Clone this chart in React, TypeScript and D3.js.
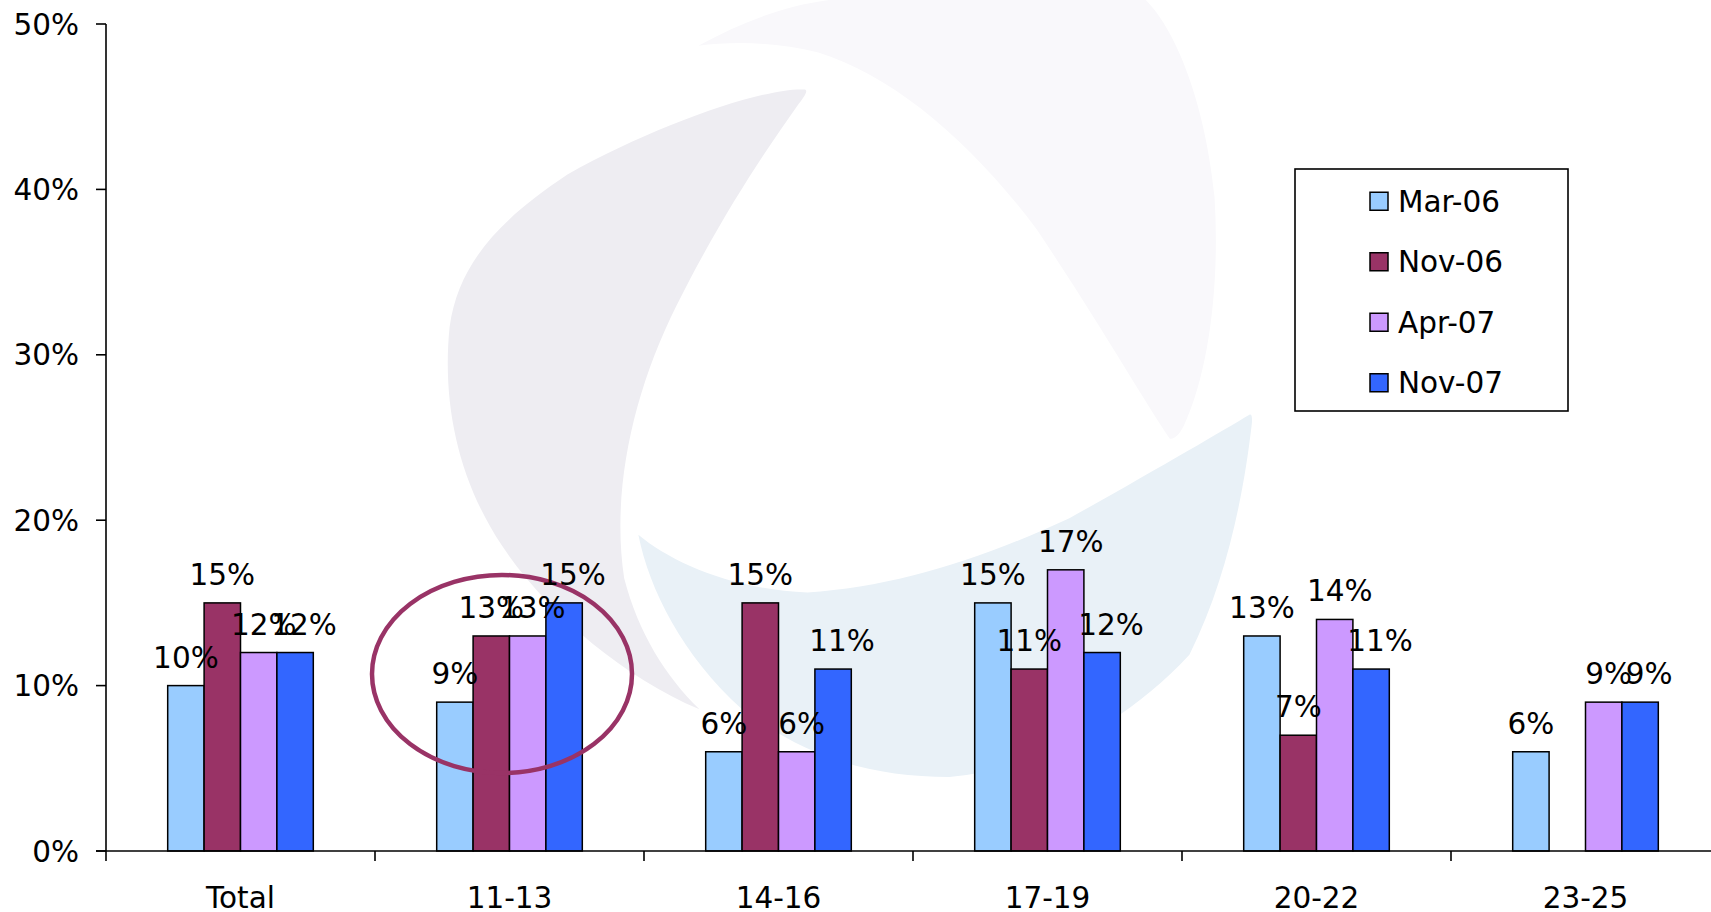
import * as d3 from 'd3'

// categories on the x axis
const categories = ['Total', '11-13', '14-16', '17-19', '20-22', '23-25']
const seriesNames = ['Mar-06', 'Nov-06', 'Apr-07', 'Nov-07']
const seriesColors = ['#99CCFF', '#993366', '#CC99FF', '#3366FF']

// values in percent, one array per survey
const mar06 = [10, 9, 6, 15, 13, 6]
const nov06 = [15, 13, 15, 11, 7, null]
const apr07 = [12, 13, 6, 17, 14, 9]
const nov07 = [12, 15, 11, 12, 11, 9]
const yTicks = [0, 10, 20, 30, 40, 50]

const series = [mar06, nov06, apr07, nov07]

const width = 1711
const height = 912
const font = '"DejaVu Sans", sans-serif'
const fs = 29.5
// labels of the later series sit a little to the right of their bars
const labelShift = [0, 0, 5, 9]

export default function App() {
  const x0 = d3
    .scaleBand()
    .domain(categories)
    .range([106, 106 + 269 * categories.length])
  const x1 = d3
    .scaleBand()
    .domain(seriesNames)
    .range([0, x0.bandwidth()])
    .paddingInner(0)
    .paddingOuter(1.695)
  const y = d3.scaleLinear().domain([0, 50]).range([851, 24])
  const color = d3.scaleOrdinal<string, string>().domain(seriesNames).range(seriesColors)
  const legendY = d3.scaleBand().domain(seriesNames).range([169, 411])

  const bars = series
    .flatMap((vals, si) =>
      vals.map((v, ci) => ({ si, name: seriesNames[si], cat: categories[ci], v }))
    )
    .filter(d => d.v != null) as { si: number; name: string; cat: string; v: number }[]

  return (
    <svg
      width={width}
      height={height}
      style={{ position: 'absolute', left: 0, top: 0, background: '#fff' }}
      fontFamily={font}
    >
      {/* faint logo watermark behind the plot */}
      <g transform={`scale(${width / 1568})`}>
        <path
          fill="#F9F8FB"
          d="M640,42 C680,20 720,5 760,0 L1050,0 C1080,30 1105,100 1113,180 C1118,260 1108,340 1085,390 C1080,400 1075,403 1072,402 C1050,370 1010,300 950,210 C890,130 820,70 750,48 C710,38 670,38 640,42 Z"
        />
        <path
          fill="#EEEDF2"
          d="M737,82 C700,80 600,115 520,160 C460,200 420,240 412,300 C405,370 420,440 460,500 C500,560 570,620 641,650 C610,620 585,580 572,530 C560,450 580,360 620,280 C660,200 700,140 732,95 C740,85 740,82 737,82 Z"
        />
        <path
          fill="#E9F1F7"
          d="M1145,380 C1120,395 1060,430 980,475 C900,512 820,538 740,543 C670,540 615,515 585,490 C595,540 625,600 680,650 C740,695 800,712 870,712 C950,705 1030,665 1090,600 C1125,530 1140,450 1147,390 C1148,382 1147,379 1145,380 Z"
        />
      </g>

      {/* bars */}
      {bars.map(d => (
        <rect
          key={d.name + d.cat}
          x={(x0(d.cat) ?? 0) + (x1(d.name) ?? 0)}
          y={y(d.v)}
          width={x1.bandwidth()}
          height={y(0) - y(d.v)}
          fill={color(d.name)}
          stroke="#000"
          strokeWidth={1.5}
        />
      ))}

      {/* axes */}
      <line x1={106} x2={106} y1={y(50)} y2={y(0)} stroke="#000" strokeWidth={1.6} />
      <line x1={96} x2={width} y1={y(0)} y2={y(0)} stroke="#000" strokeWidth={1.6} />
      {yTicks.map(t => (
        <g key={t}>
          <line x1={96} x2={106} y1={y(t)} y2={y(t)} stroke="#000" strokeWidth={1.6} />
          <text x={79} y={y(t)} dy="0.36em" textAnchor="end" fontSize={fs} fill="#000">
            {t}%
          </text>
        </g>
      ))}
      {categories.map(c => (
        <g key={c}>
          <line x1={x0(c)} x2={x0(c)} y1={y(0)} y2={y(0) + 10} stroke="#000" strokeWidth={1.6} />
          <text
            x={(x0(c) ?? 0) + x0.bandwidth() / 2}
            y={908}
            textAnchor="middle"
            fontSize={fs}
            fill="#000"
          >
            {c}
          </text>
        </g>
      ))}

      {/* highlight around the 11-13 group */}
      <ellipse cx={502} cy={674} rx={130} ry={99} fill="none" stroke="#993366" strokeWidth={4.5} />

      {/* value labels */}
      {bars.map(d => (
        <text
          key={'l' + d.name + d.cat}
          x={(x0(d.cat) ?? 0) + (x1(d.name) ?? 0) + x1.bandwidth() / 2 + labelShift[d.si]}
          y={y(d.v) - 18}
          textAnchor="middle"
          fontSize={fs}
          fill="#000"
        >
          {d.v}%
        </text>
      ))}

      {/* legend */}
      <rect x={1295} y={169} width={273} height={242} fill="#fff" stroke="#000" strokeWidth={1.6} />
      {seriesNames.map(s => {
        const cy = (legendY(s) ?? 0) + legendY.bandwidth() / 2 + 2
        return (
          <g key={s}>
            <rect x={1370} y={cy - 9} width={18} height={18} fill={color(s)} stroke="#000" strokeWidth={1.5} />
            <text x={1398} y={cy} dy="0.36em" fontSize={fs} fill="#000">
              {s}
            </text>
          </g>
        )
      })}
    </svg>
  )
}
